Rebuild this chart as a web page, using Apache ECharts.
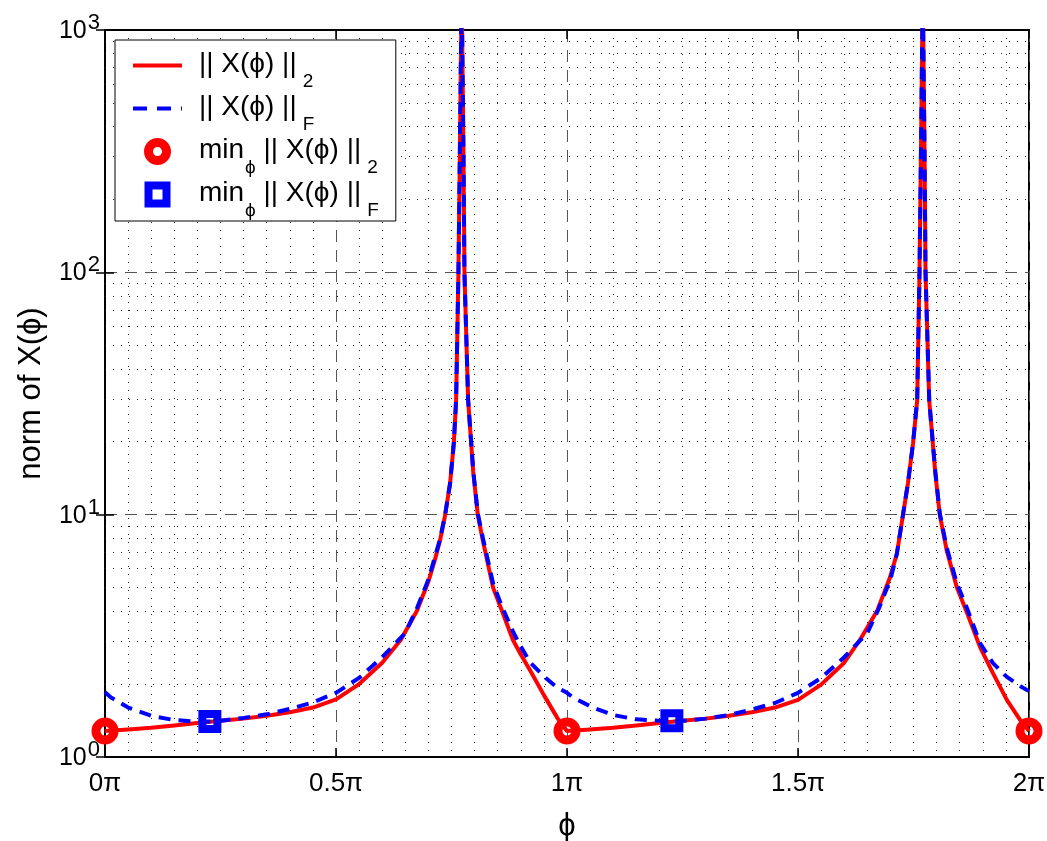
<!DOCTYPE html>
<html>
<head>
<meta charset="utf-8">
<script src="https://cdn.jsdelivr.net/npm/echarts@6/dist/echarts.min.js"></script>
<style>
html,body{margin:0;padding:0;background:#fff;}
#chart{width:1047px;height:841px;}
</style>
</head>
<body>
<div id="chart"></div>
<script>
// phi in units of pi
const phiRed = [0,0.05,0.10,0.15,0.20,0.25,0.30,0.35,0.40,0.45,0.50,0.55,0.60,0.64,0.675,0.70,0.714,0.725,0.736,0.747,0.755,0.760,0.765,0.768,0.771,0.772,0.773,0.776,0.778,0.786,0.797,0.807,0.818,0.840,0.861,0.883,0.90,0.92,0.95,0.98,
  1.00,1.05,1.10,1.15,1.20,1.25,1.30,1.35,1.40,1.45,1.50,1.55,1.60,1.634,1.671,1.699,1.714,1.727,1.738,1.749,1.758,1.763,1.766,1.769,1.770,1.771,1.774,1.776,1.784,1.797,1.807,1.822,1.844,1.866,1.894,1.922,1.952,1.981,2.00];
const norm2 = [1.28,1.30,1.32,1.35,1.38,1.41,1.44,1.48,1.53,1.60,1.73,2.00,2.45,3.04,4.0,5.3,6.5,7.8,9.9,13.5,19.7,29.7,100,300,1000,3000,1000,300,100,29.7,15.0,9.95,7.8,5.0,3.93,3.04,2.65,2.28,1.80,1.44,
  1.28,1.30,1.32,1.35,1.38,1.41,1.44,1.48,1.53,1.60,1.72,1.99,2.45,3.04,4.0,5.5,6.9,9.9,13.5,19.7,29.7,100,300,1000,3000,1000,300,100,29.7,15.0,9.95,7.1,5.0,3.93,2.84,2.22,1.72,1.42,1.28];
const phiBlue = [0,0.013,0.05,0.10,0.15,0.20,0.227,0.25,0.30,0.35,0.40,0.45,0.50,0.55,0.60,0.65,0.675,0.70,0.725,0.736,0.747,0.755,0.760,0.765,0.768,0.771,0.772,0.773,0.776,0.778,0.786,0.797,0.807,0.818,0.840,0.861,0.883,0.898,0.92,0.95,0.978,
  1.0,1.013,1.056,1.10,1.15,1.20,1.227,1.25,1.30,1.35,1.40,1.45,1.50,1.55,1.60,1.65,1.675,1.70,1.714,1.727,1.738,1.749,1.758,1.763,1.766,1.769,1.770,1.771,1.774,1.776,1.784,1.797,1.807,1.822,1.844,1.866,1.894,1.922,1.952,1.985,2.0];
const normF = [1.85,1.76,1.60,1.48,1.42,1.40,1.40,1.41,1.45,1.50,1.58,1.68,1.84,2.12,2.58,3.25,4.1,5.4,7.9,9.95,13.5,19.7,29.7,100,300,1000,3000,1000,300,100,29.7,15.2,10.1,8.0,5.2,4.1,3.3,2.90,2.46,2.15,1.94,
  1.84,1.76,1.60,1.49,1.43,1.41,1.40,1.41,1.44,1.49,1.57,1.67,1.84,2.12,2.58,3.25,4.1,5.4,6.9,9.95,13.5,19.7,29.7,100,300,1000,3000,1000,300,100,29.7,15.2,10.1,7.3,5.2,4.1,2.95,2.44,2.14,1.94,1.87];
const minPhi2 = [0, 1, 2];
const min2 = [1.28, 1.28, 1.28];
const minPhiF = [0.227, 1.227];
const minF = [1.40, 1.41];
const yMinorGrid = [2,3,4,5,6,7,8,9,20,30,40,50,60,70,80,90,200,300,400,500,600,700,800,900];

const FONT = 'Liberation Sans, Arial, Helvetica, sans-serif';
const zip = (a, b) => a.map((v, i) => [v, b[i]]);

const chart = echarts.init(document.getElementById('chart'), null, {renderer: 'canvas'});
const legendText = {
  n2: '{p|}{a||| X(\u03d5) ||}{sub|2}',
  nF: '{p|}{a||| X(\u03d5) ||}{sub|F}',
  m2: '{p|}{a|min}{sub0|\u03d5}{a| || X(\u03d5) ||}{sub|2}',
  mF: '{p|}{a|min}{sub0|\u03d5}{a| || X(\u03d5) ||}{sub|F}'
};
const gridLineDash = {type: [12, 8], color: '#555', width: 1};
const dotLine = {type: [1, 7], color: '#222', width: 1};
const noSym = {color: 'rgba(0,0,0,0)', borderColor: 'rgba(0,0,0,0)', borderWidth: 0};

chart.setOption({
  animation: false,
  textStyle: {fontFamily: FONT, color: '#000'},
  grid: {left: 105, right: 18, top: 30, bottom: 84, containLabel: false, outerBoundsMode: 'none',
         show: true, borderColor: '#000', borderWidth: 2, backgroundColor: 'transparent'},
  legend: {
    orient: 'vertical', left: 115, top: 40,
    data: [
      {name: 'n2', itemStyle: noSym, lineStyle: {color: '#ff0000', width: 4, type: 'solid'}},
      {name: 'nF', itemStyle: noSym, lineStyle: {color: '#0000ff', width: 4, type: [14, 10]}},
      {name: 'm2', icon: 'circle', itemStyle: {color: 'rgba(0,0,0,0)', borderColor: '#ff0000', borderWidth: 9}},
      {name: 'mF', icon: 'path://M0,0H10V10H0Z', itemStyle: {color: 'rgba(0,0,0,0)', borderColor: '#0000ff', borderWidth: 8}}
    ],
    backgroundColor: '#fff', borderColor: '#000', borderWidth: 1,
    padding: [0, 17, 1, 16],
    itemWidth: 49, itemHeight: 18, itemGap: -8,
    formatter: n => legendText[n],
    textStyle: {
      fontFamily: FONT, color: '#000',
      rich: {
        p: {width: 12},
        a: {fontSize: 28, lineHeight: 27, fontFamily: FONT, color: '#000', padding: [10, 0, 13, 0]},
        sub: {fontSize: 19, lineHeight: 19, fontFamily: FONT, color: '#000', padding: [32, 0, 0, 6]},
        sub0: {fontSize: 19, lineHeight: 19, fontFamily: FONT, color: '#000', padding: [32, 0, 0, 1]}
      }
    }
  },
  xAxis: [{
    type: 'value', min: 0, max: 2, interval: 0.5,
    axisLine: {lineStyle: {color: '#000', width: 2}},
    axisTick: {inside: true, length: 9, lineStyle: {color: '#000', width: 1.5}},
    axisLabel: {fontSize: 26, color: '#000', margin: 14, fontFamily: FONT, formatter: v => v + '\u03c0'},
    splitLine: {show: true, lineStyle: gridLineDash},
    minorTick: {show: false, splitNumber: 10},
    minorSplitLine: {show: true, lineStyle: dotLine},
    name: '\u03d5', nameLocation: 'middle', nameGap: 54,
    nameTextStyle: {fontSize: 31, color: '#000', fontFamily: FONT}
  }, {
    type: 'value', min: 0, max: 2, interval: 0.5, position: 'top',
    axisLine: {show: true, lineStyle: {color: '#000', width: 2}},
    axisTick: {show: true, inside: true, length: 9, lineStyle: {color: '#000', width: 1.5}},
    axisLabel: {show: false}, splitLine: {show: false}
  }],
  yAxis: [{
    type: 'log', logBase: 10, min: 1, max: 1000,
    axisLine: {show: true, lineStyle: {color: '#000', width: 2}},
    axisTick: {show: true, inside: true, length: 9, lineStyle: {color: '#000', width: 1.5}},
    axisLabel: {
      margin: 5, fontFamily: FONT, color: '#000', verticalAlign: 'middle',
      formatter: v => '{b|10}{s|' + Math.round(Math.log10(v)) + '}',
      rich: {
        b: {fontSize: 25, lineHeight: 2, fontFamily: FONT, color: '#000', padding: [2, 0, 0, 0]},
        s: {fontSize: 22, lineHeight: 2, fontFamily: FONT, color: '#000', padding: [0, 0, 14, 1]}
      }
    },
    splitLine: {show: true, lineStyle: gridLineDash},
    name: 'norm of X(\u03d5)', nameLocation: 'middle', nameGap: 58, nameRotate: 90,
    nameTextStyle: {fontSize: 31, color: '#000', fontFamily: FONT}
  }, {
    type: 'log', logBase: 10, min: 1, max: 1000, position: 'right',
    axisLine: {show: true, lineStyle: {color: '#000', width: 2}},
    axisTick: {show: true, inside: true, length: 9, lineStyle: {color: '#000', width: 1.5}},
    axisLabel: {show: false}, splitLine: {show: false}
  }],
  series: [{
    name: 'n2', type: 'line', data: zip(phiRed, norm2), showSymbol: false, symbol: 'none',
    lineStyle: {color: '#ff0000', width: 4}, itemStyle: {color: '#ff0000'}, z: 3,
    markLine: {
      silent: true, symbol: 'none', label: {show: false}, animation: false,
      lineStyle: dotLine, z: 1,
      data: yMinorGrid.map(v => ({yAxis: v}))
    }
  }, {
    name: 'nF', type: 'line', data: zip(phiBlue, normF), showSymbol: false, symbol: 'none',
    lineStyle: {color: '#0000ff', width: 4, type: [12, 8]}, itemStyle: {color: '#0000ff'}, z: 4
  }, {
    name: 'm2', type: 'scatter', data: zip(minPhi2, min2), symbol: 'circle', symbolSize: 18,
    itemStyle: {color: 'rgba(255,255,255,0)', borderColor: '#ff0000', borderWidth: 9, opacity: 1}, z: 5
  }, {
    name: 'mF', type: 'scatter', data: zip(minPhiF, minF), symbol: 'rect', symbolSize: 15,
    itemStyle: {color: 'rgba(255,255,255,0)', borderColor: '#0000ff', borderWidth: 8, opacity: 1}, z: 6
  }]
});
</script>
</body>
</html>
